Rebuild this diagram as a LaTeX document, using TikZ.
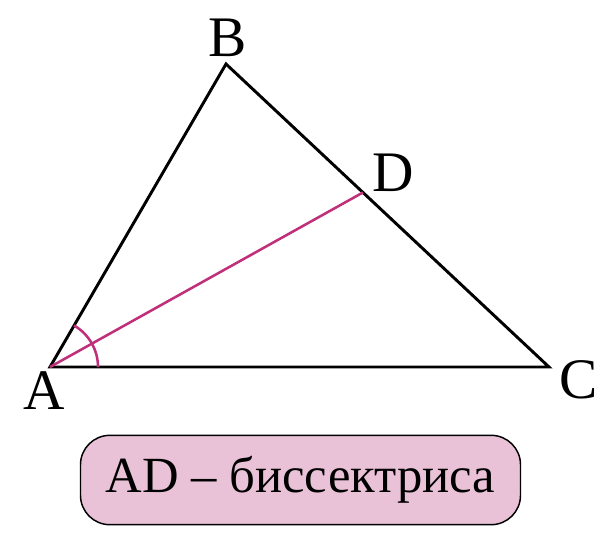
\documentclass[tikz,border=0pt]{standalone}
\usepackage{fontspec}
\setmainfont{Liberation Serif}
\usetikzlibrary{arrows,positioning,calc}
\definecolor{bisect}{RGB}{192,48,122}
\definecolor{notefill}{RGB}{233,194,216}

\begin{document}
\begin{tikzpicture}[x=0.75pt,y=0.75pt,line join=miter]
  \tikzstyle{every node}=[inner sep=0pt]
  \tikzstyle{vertex}=[font=\fontsize{43}{43}\selectfont]
  \tikzstyle{side}=[draw=black,line width=2.2pt]
  \tikzstyle{bisector}=[draw=bisect,line width=1.9pt]
  \tikzstyle{note}=[draw=black,line width=1.1pt,fill=notefill,rounded corners=22pt,
                    minimum width=330pt,minimum height=67pt,
                    font=\fontsize{38}{38}\selectfont]
\useasboundingbox (0,0) rectangle (606,-550);
\coordinate (A) at (50,-367);
\coordinate (B) at (226,-64);
\coordinate (C) at (549,-367);
\coordinate (D) at ($(B)!0.424!(C)$);
\node [vertex] (lA) at (44,-391) {A};
\node [vertex] (lB) at (228,-38) {B};
\node [vertex] (lC) at (579,-380) {C};
\node [vertex] (lD) at (393,-173) {D};

% triangle and bisector
\draw [side] (A) -- (B) -- (C) -- cycle;
\draw [bisector] (A) -- (D);
\draw [bisector] (A) ++(0:48) arc [start angle=0,end angle=29,radius=48];
\draw [bisector] (A) ++(29:48) arc [start angle=29,end angle=60,radius=48];

\node [note] (note) at (300.5,-480) {AD – биссектриса};
\end{tikzpicture}
\end{document}
